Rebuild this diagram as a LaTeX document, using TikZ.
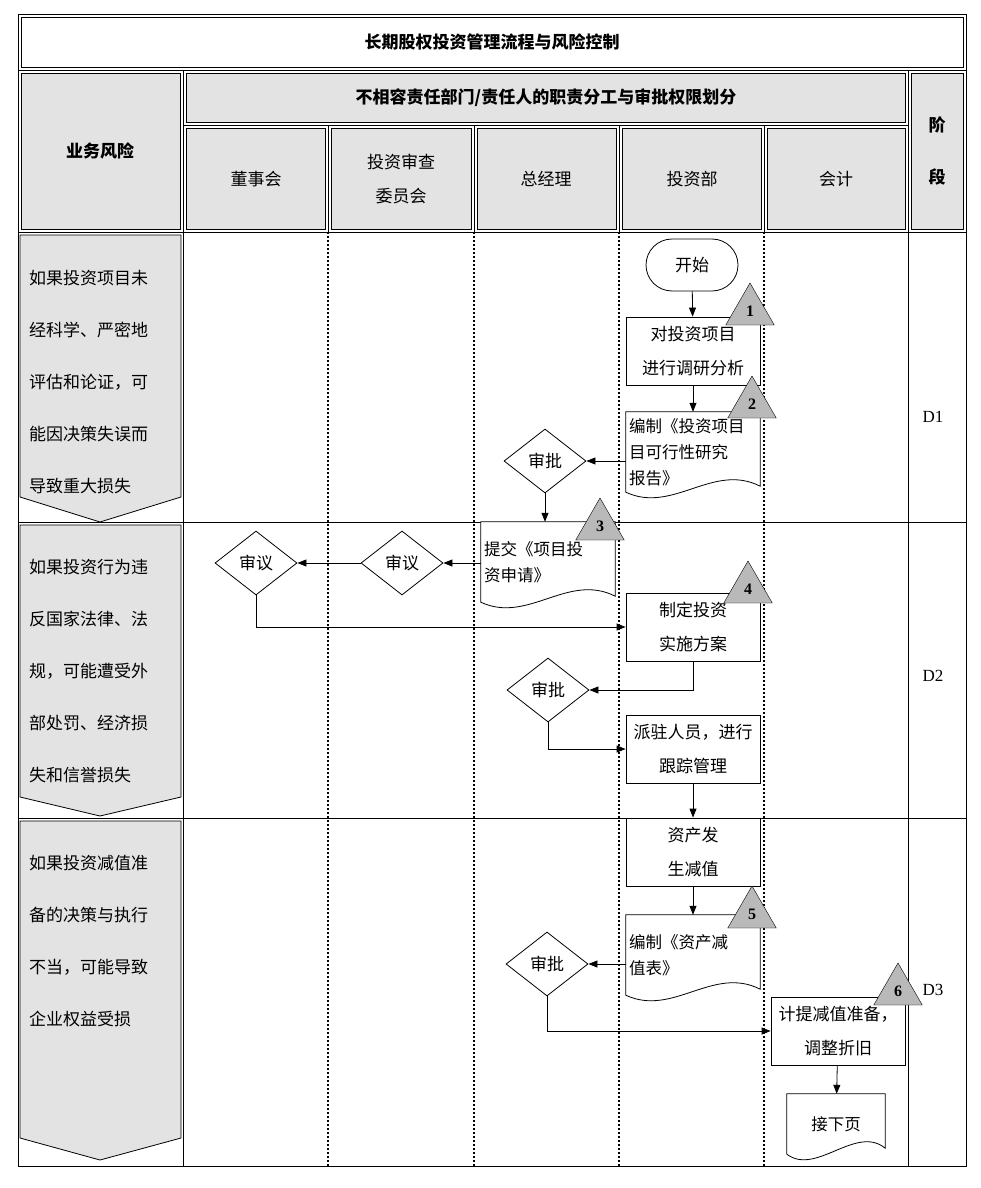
\documentclass[tikz,border=0pt]{standalone}
\usepackage{fontspec}
\newfontfamily\cjk{Noto Sans CJK SC}
\setmainfont{Liberation Serif}
\usetikzlibrary{arrows.meta,positioning,calc,shapes.geometric}
\tikzset{
  proc/.style={draw, thick, minimum width=134pt, minimum height=68pt, align=center, font=\cjk\fontsize{17}{34}\selectfont},
  docbox/.style={minimum width=134pt, minimum height=80pt, align=left, inner xsep=3pt, font=\cjk\fontsize{16.5}{26}\selectfont, text width=128pt},
  dec/.style={draw, thick, diamond, aspect=1.3, minimum width=82pt, minimum height=64pt, inner sep=0pt, font=\cjk\fontsize{17}{20}\selectfont},
  term/.style={draw, thick, rounded corners=26pt, minimum width=92pt, minimum height=52pt, font=\cjk\fontsize{17}{20}\selectfont},
  mk/.style={draw, fill=gray!55, regular polygon, regular polygon sides=3, minimum size=56pt, inner sep=0pt, font=\bfseries\fontsize{16}{18}\selectfont},
  flow/.style={thick, -{Triangle[length=9pt,width=7pt]}},
  hdr/.style={font=\cjk\fontsize{17}{34}\selectfont, align=center},
  risk/.style={font=\cjk\fontsize{17}{52}\selectfont, align=left, anchor=north west, inner sep=0pt},
  lane/.style={line width=2pt, dash pattern=on 2pt off 2pt},
}
\newcommand{\docshape}[1]{%
  \draw[thick, fill=white] (#1.north west) -- (#1.north east) -- ($(#1.south east)+(0,-6)$)
    .. controls ($(#1.south)+(20,-30)$) and ($(#1.south)+(-20,22)$) .. ($(#1.south west)+(0,0)$) -- cycle;}
\begin{document}
\begin{tikzpicture}[x=1pt, y=-1pt]
  \useasboundingbox (0,0) rectangle (981,1188);
  % frame and header
  \draw[thick] (18,14) rectangle (966,1166);
  \draw (21,17) rectangle (963,67);
  \draw[thick] (18,70) -- (966,70);
  \node[hdr, font=\cjk\bfseries\fontsize{17}{20}\selectfont] (title) at (492,42) {长期股权投资管理流程与风险控制};
  \foreach \xa/\xb/\ya/\yb in {18/183/70/232, 183/908/70/125, 183/328/125/232, 328/474/125/232,
      474/619/125/232, 619/764/125/232, 764/908/125/232, 908/966/70/232}{
    \draw[thick] (\xa,\ya) rectangle (\xb,\yb);
    \draw[fill=gray!22] (\xa+3,\ya+3) rectangle (\xb-3,\yb-3);
  }
  \node[hdr, font=\cjk\bfseries\fontsize{17}{20}\selectfont] (risk) at (100,151) {业务风险};
  \node[hdr, font=\cjk\bfseries\fontsize{17}{20}\selectfont] (duty) at (546,98) {不相容责任部门/责任人的职责分工与审批权限划分};
  \node[hdr] (h1) at (256,179) {董事会};
  \node[hdr] (h2) at (401,179) {投资审查\\委员会};
  \node[hdr] (h3) at (546,179) {总经理};
  \node[hdr] (h4) at (692,179) {投资部};
  \node[hdr] (h5) at (836,179) {会计};
  \node[hdr, font=\cjk\bfseries\fontsize{17}{52}\selectfont] (h6) at (937,151) {阶\\段};
  % body grid
  \draw[thick] (183,232) -- (183,1166) (908,232) -- (908,1166);
  \draw (18,522) -- (966,522) (18,818) -- (966,818);
  \foreach \x in {328,474,619,764} \draw[lane] (\x,232) -- (\x,1166);
  % risk pennants
  \foreach \ya/\yb/\yt in {235/497/522, 525/797/816, 821/1138/1160}
    \draw[thick, fill=gray!22] (20,\ya) -- (181,\ya) -- (181,\yb) -- (100,\yt) -- (20,\yb) -- cycle;
  \node[risk] (r1) at (29,270) {如果投资项目未\\经科学、严密地\\评估和论证，可\\能因决策失误而\\导致重大损失};
  \node[risk] (r2) at (29,559) {如果投资行为违\\反国家法律、法\\规，可能遭受外\\部处罚、经济损\\失和信誉损失};
  \node[risk] (r3) at (29,855) {如果投资减值准\\备的决策与执行\\不当，可能导致\\企业权益受损};
  \node (d1) at (933,417) {\fontsize{17}{20}\selectfont D1};
  \node (d2) at (933,676) {\fontsize{17}{20}\selectfont D2};
  \node (d3) at (933,990) {\fontsize{17}{20}\selectfont D3};
  % flow
  \node[term] (start) at (692,265) {开始};
  \node[proc] (research) at (693,351) {对投资项目\\进行调研分析};
  \node[docbox] (report) at (693,452) {编制《投资项目\\目可行性研究\\报告》};
  \docshape{report}
  \node[docbox] at (693,452) {编制《投资项目\\目可行性研究\\报告》};
  \node[dec] (ok1) at (545,461) {审批};
  \node[docbox] (apply) at (548,562) {提交《项目投\\资申请》};
  \docshape{apply}
  \node[docbox] at (548,562) {提交《项目投\\资申请》};
  \node[dec] (rev2) at (402,563) {审议};
  \node[dec] (rev1) at (256,563) {审议};
  \node[proc] (plan) at (693,627) {制定投资\\实施方案};
  \node[dec] (ok2) at (548,690) {审批};
  \node[proc] (track) at (693,749) {派驻人员，进行\\跟踪管理};
  \node[proc] (impair) at (693,852) {资产发\\生减值};
  \node[docbox] (table) at (693,955) {编制《资产减\\值表》};
  \docshape{table}
  \node[docbox] at (693,955) {编制《资产减\\值表》};
  \node[dec] (ok3) at (547,964) {审批};
  \node[proc] (adjust) at (838,1031) {计提减值准备，\\调整折旧};
  \node[docbox, minimum width=98pt, text width=80pt, minimum height=60pt, align=center] (next) at (836,1124) {接下页};
  \docshape{next}
  \node[docbox, minimum width=98pt, text width=80pt, minimum height=60pt, align=center] at (836,1124) {接下页};
  % markers
  \node[mk] at (750,311) {\raisebox{-6pt}{1}};
  \node[mk] at (752,404) {\raisebox{-6pt}{2}};
  \node[mk] at (600,526) {\raisebox{-6pt}{3}};
  \node[mk] at (748,589) {\raisebox{-6pt}{4}};
  \node[mk] at (752,914) {\raisebox{-6pt}{5}};
  \node[mk] at (898,991) {\raisebox{-6pt}{6}};
  % connectors
  \draw[flow] (start) -- (research);
  \draw[flow] (research) -- (report);
  \draw[flow] (report.west |- ok1) -- (ok1);
  \draw[flow] (ok1) -- (ok1 |- apply.north);
  \draw[flow] (apply.west |- rev2) -- (rev2);
  \draw[flow] (rev2) -- (rev1);
  \draw[flow] (rev1.south) |- (plan.west);
  \draw[flow] (plan.south) |- (ok2.east);
  \draw[flow] (ok2.south) |- (track.west);
  \draw[flow] (track) -- (impair);
  \draw[flow] (impair) -- (table);
  \draw[flow] (table.west |- ok3) -- (ok3);
  \draw[flow] (ok3.south) |- (adjust.west);
  \draw[flow] (adjust) -- (next);
\end{tikzpicture}
\end{document}
